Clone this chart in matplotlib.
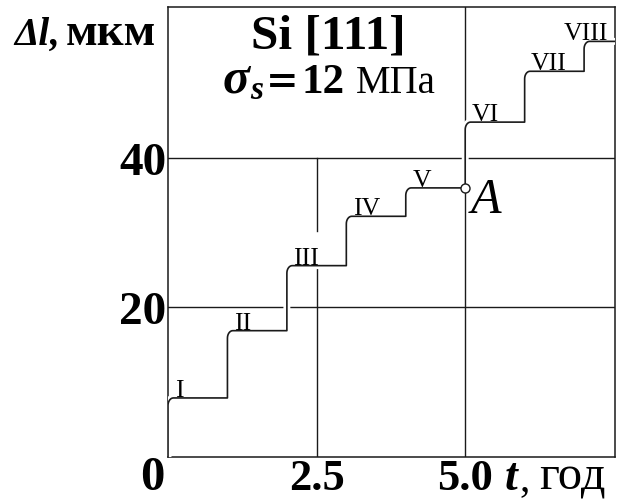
import numpy as np
import matplotlib
matplotlib.use("Agg")
import matplotlib.pyplot as plt
from matplotlib.transforms import IdentityTransform
import matplotlib.patheffects as pe

# ---- data ----
step_times = [0, 1, 2, 3, 4, 5, 6, 7]            # t, years
step_levels = [7.9, 16.9, 25.6, 32.2, 36.0, 44.8, 51.6, 55.6]  # Δl, µm
step_labels = ['I', 'II', 'III', 'IV', 'V', 'VI', 'VII', 'VIII']
t_end = 7.52
point_A = (5.0, 36.0)
xticks = [2.5, 5.0]
xtick_labels = ['2.5', '5.0']
yticks = [20, 40]
ytick_labels = ['20', '40']

W, H = 640, 502
FONT = 'Liberation Serif'
LC = '#1a1a1a'

fig = plt.figure(figsize=(W / 100, H / 100), dpi=100)
ax = fig.add_axes([168 / W, 1 - 458 / H, (615 - 168) / W, (458 - 8) / H])
ax.set_xlim(0, t_end)
ax.set_ylim(0, 60.2)

for s in ax.spines.values():
    s.set_color(LC)
    s.set_linewidth(1.1)

# grid lines
for y in yticks:
    ax.axhline(y, color=LC, lw=1.0, zorder=1)
ax.axvline(5.0, color=LC, lw=1.0, zorder=1)
ax.plot([2.5, 2.5], [0, 25.4], color=LC, lw=1.0, zorder=1)
ax.plot([2.5, 2.5], [30.3, 40], color=LC, lw=1.0, zorder=1)

# step curve with rounded corners
xs, ys = [], []
prev = 0.0
theta = np.linspace(0, np.pi / 2, 10)
for t, lev in zip(step_times, step_levels):
    dy = min(1.0, (lev - prev) * 0.3)
    dx = 0.09
    xs.append(t); ys.append(prev)
    xs += list(t + dx * (1 - np.cos(theta)))
    ys += list(lev - dy + dy * np.sin(theta))
    prev = lev
xs.append(t_end); ys.append(prev)
ax.plot(xs, ys, color=LC, lw=1.2, zorder=3,
        path_effects=[pe.Stroke(linewidth=5, foreground='white'), pe.Normal()])

ax.plot([point_A[0]], [point_A[1]], marker='o', ms=6.5, mfc='white',
        mec=LC, mew=1.0, zorder=4)
ax.annotate('A', xy=point_A, xytext=(4, -17), textcoords='offset points',
            ha='left', va='baseline', fontsize=36, family=FONT, style='italic',
            zorder=5)

for i, (t, lev, lab) in enumerate(zip(step_times, step_levels, step_labels)):
    if i == len(step_labels) - 1:
        ax.annotate(lab, xy=(t + 0.40, lev), xytext=(0, 1.5), textcoords='offset points',
                    ha='right', va='baseline', fontsize=18.5, family=FONT, zorder=5)
    else:
        ax.annotate(lab, xy=(t + 0.11, lev), xytext=(0, 1.5), textcoords='offset points',
                    ha='left', va='baseline', fontsize=18.5, family=FONT, zorder=5)

ax.set_xticks(xticks)
ax.set_xticklabels(xtick_labels, fontsize=32, family=FONT, fontweight='bold')
ax.set_yticks(yticks)
ax.set_yticklabels(ytick_labels, fontsize=34, family=FONT, fontweight='bold')
ax.tick_params(length=0, pad=1)
ax.tick_params(axis='x', pad=1)

fig.canvas.draw()
renderer = fig.canvas.get_renderer()


def rich(x_px, base_px, pieces, ha='left'):
    """pieces: (text, props, gap_before_px, dy_px_down); positions in image px (top-left origin)."""
    objs = []
    widths = []
    for s, props, gap, dy in pieces:
        props = dict(props)
        fam = props.pop('family', FONT)
        t = fig.text(0, 0, s, transform=IdentityTransform(), ha='left',
                     va='baseline', family=fam, **props)
        w = t.get_window_extent(renderer).width
        objs.append(t)
        widths.append(w)
    total = sum(widths) + sum(p[2] for p in pieces)
    x = x_px if ha == 'left' else x_px - total / 2 if ha == 'center' else x_px - total
    for t, w, (s, props, gap, dy) in zip(objs, widths, pieces):
        x += gap
        t.set_position((x, H - (base_px + dy)))
        x += w


rich(328, 49, [('Si [111]', dict(fontsize=35.5, fontweight='bold'), 0, 0)], ha='center')
rich(329, 93, [('σ', dict(fontsize=36, fontweight='bold', style='italic'), 0, 0),
               ('s', dict(fontsize=24, fontweight='bold', style='italic'), 0, 6),
               ('=', dict(fontsize=28, fontweight='bold', family='DejaVu Serif'), 3, 0),
               ('12', dict(fontsize=31, fontweight='bold'), 3, 0),
               ('МПа', dict(fontsize=28), 11, 0)], ha='center')
rich(14, 45, [('Δl', dict(fontsize=28, fontweight='bold', style='italic'), 0, 0),
              (',', dict(fontsize=28, fontweight='bold', style='italic'), 1, 0),
              ('мкм', dict(fontsize=33.5, fontweight='bold'), 6, 0)])
rich(505, 490, [('t', dict(fontsize=33, fontweight='bold', style='italic'), 0, 0),
                (',', dict(fontsize=30), 2, 0),
                ('год', dict(fontsize=35), 9, 0)])
fig.text(152, 2, '0', transform=IdentityTransform(), ha='center', va='bottom',
         family=FONT, fontsize=35, fontweight='bold')

fig.savefig('out.png', dpi=100)
